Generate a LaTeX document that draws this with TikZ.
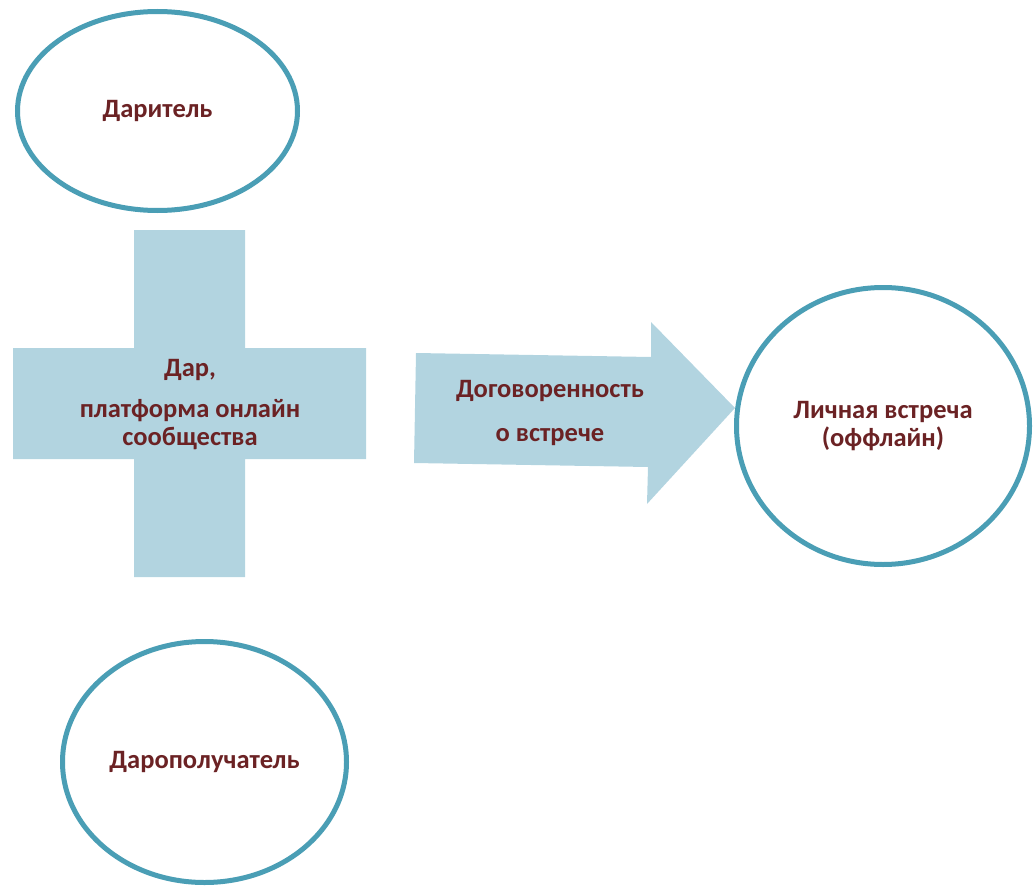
\documentclass[tikz,border=0pt]{standalone}
\usepackage{fontspec}
\setmainfont{Carlito}
\usetikzlibrary{shapes.geometric}
\definecolor{rim}{HTML}{4A9EB5}
\definecolor{pale}{HTML}{B2D4E0}
\definecolor{wine}{HTML}{6B2224}
\begin{document}
\begin{tikzpicture}[x=1pt,y=-1pt,
    party/.style={ellipse,draw=rim,line width=5pt,fill=white,inner sep=0pt},
    label/.style={text=wine,font=\fontsize{26.5}{28}\selectfont\bfseries,align=center}]
      \useasboundingbox (0,0) rectangle (1033,888);

      % cross and arrow
      \fill [pale] (134,230) -- (245,230) -- (245,348) -- (366,348) -- (366,459)
        -- (245,459) -- (245,577) -- (134,577) -- (134,459) -- (13,459)
        -- (13,348) -- (134,348) -- cycle;
      \fill [pale] (416,353) -- (651,357) -- (651,322) -- (735,408) -- (647,504)
        -- (648,467) -- (414,463) -- cycle;

      \node (giver) [party,minimum width=280,minimum height=199] at (157.5,111) {};
      \node (taker) [party,minimum width=284,minimum height=241] at (204.5,762) {};
      \node (meet) [party,minimum width=293,minimum height=277] at (883,426) {};

      \node (giverlbl) [label] at (giver) {Даритель};
      \node (takerlbl) [label] at (taker) {Дарополучатель};
      \node (meetlbl) [label] at (meet) {Личная встреча\\(оффлайн)};
      \node (gift) [label] at (190,405) {Дар,\\[13pt]платформа онлайн\\сообщества};
      \node (deal) [label] at (550,413) {Договоренность\\[16pt]о встрече};
    \end{tikzpicture}
\end{document}
